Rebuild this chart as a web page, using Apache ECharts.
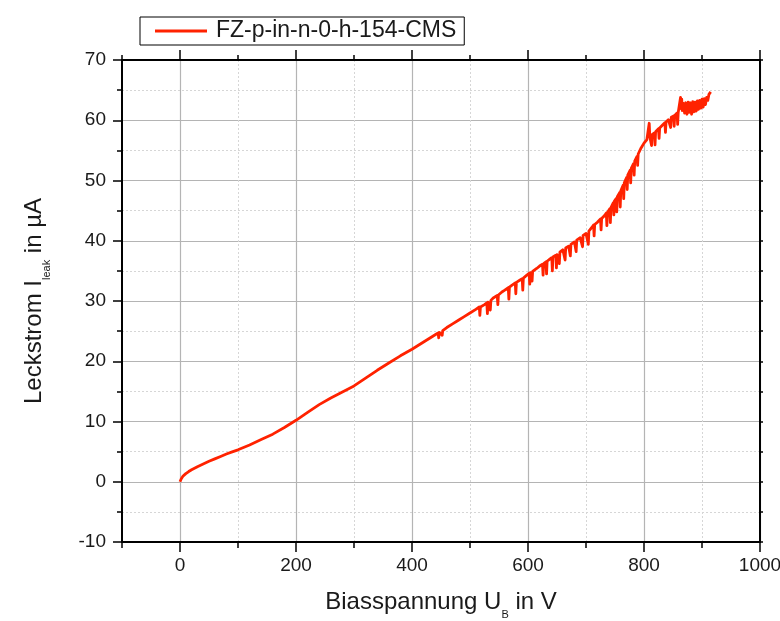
<!DOCTYPE html>
<html>
<head>
<meta charset="utf-8">
<script src="https://cdn.jsdelivr.net/npm/echarts@6/dist/echarts.min.js"></script>
<style>
  html, body { margin: 0; padding: 0; background: #fff; }
  #chart { width: 780px; height: 621px; }
</style>
</head>
<body>
<div id="chart"></div>
<script>
// Leakage current vs. bias voltage of sensor FZ-p-in-n-0-h-154-CMS
const seriesName = 'FZ-p-in-n-0-h-154-CMS';
const xMajorValues = [0, 200, 400, 600, 800, 1000];
const yTickValues = [-10, 0, 10, 20, 30, 40, 50, 60, 70];

// Bias voltage in V
const biasVoltage = [
  0, 2, 5, 10, 15, 20, 30, 40, 50, 60, 70, 80, 90,
  100, 120, 140, 160, 180, 200, 220, 240, 260, 280, 300,
  320, 340, 360, 380, 400, 420, 440,
  445, 446, 447, 450, 452, 453, 460, 470, 480, 490, 500, 510,
  516, 517, 518, 525, 529, 530, 531, 534, 535, 536, 540,
  547, 548, 549, 555, 560, 566, 567, 568, 572, 578, 579, 580,
  585, 590, 591, 592, 597, 602, 603, 604, 606, 607, 608,
  615, 620, 625, 626, 627, 631, 632, 633, 637, 641, 642, 643,
  648, 649, 650, 653, 654, 655, 660, 663, 664, 665, 670,
  672, 673, 674, 680, 682, 683, 684, 690, 693, 694, 695,
  700, 703, 704, 705, 710, 713, 714, 715, 720, 725, 726, 727,
  732, 735, 736, 737, 741, 742, 743, 747, 748, 749,
  752, 753, 754, 758, 759, 760, 764, 765, 766, 770, 771, 772,
  776, 777, 778, 782, 783, 784, 788, 789, 790, 795, 800, 805,
  808, 809, 810, 812, 813, 814, 818, 819, 820, 825, 826, 827,
  832, 836, 837, 838, 842, 845, 846, 847, 851, 852, 853,
  857, 858, 859, 862, 863, 864, 865, 866,
  868, 870, 872, 874, 876, 878, 880, 882, 884, 886, 888, 890,
  892, 894, 896, 898, 900, 902, 904, 906, 908, 910, 912, 915
];

// Leakage current in µA
const leakCurrent = [
  0, 0.45, 0.9, 1.35, 1.7, 2.0, 2.5, 2.95, 3.4, 3.8, 4.2, 4.6, 4.95,
  5.3, 6.1, 7.0, 7.9, 9.0, 10.2, 11.5, 12.8, 13.9, 14.9, 15.9,
  17.2, 18.5, 19.7, 20.9, 22.0, 23.2, 24.4,
  24.7, 23.9, 24.8, 25.0, 24.3, 25.1, 25.6, 26.2, 26.8, 27.4, 28.0, 28.6,
  29.0, 27.6, 29.0, 29.4, 29.7, 27.9, 29.8, 30.0, 28.5, 30.1, 30.5,
  30.9, 29.4, 31.0, 31.5, 31.8, 32.2, 30.3, 32.3, 32.6, 33.0, 31.2, 33.1,
  33.4, 33.7, 31.8, 33.8, 34.2, 34.6, 32.8, 34.7, 34.8, 33.3, 34.9,
  35.4, 35.8, 36.1, 34.3, 36.2, 36.5, 34.5, 36.6, 36.9, 37.2, 35.0, 37.3,
  37.6, 35.5, 37.7, 37.9, 36.2, 38.1, 38.5, 38.7, 36.8, 38.8, 39.1,
  39.3, 37.5, 39.4, 39.8, 40.0, 38.2, 40.1, 40.5, 40.8, 39.0, 40.9,
  41.2, 41.5, 39.4, 41.6, 42.2, 42.6, 40.8, 42.7, 43.1, 43.6, 41.8, 43.7,
  44.2, 44.6, 42.5, 44.7, 45.3, 43.0, 45.5, 46.3, 44.3, 46.6,
  47.0, 44.8, 47.3, 48.0, 45.6, 48.3, 49.2, 47.0, 49.6, 50.5, 48.5, 50.9,
  51.7, 49.6, 52.0, 52.8, 50.9, 53.2, 54.0, 52.5, 54.4, 55.4, 56.2, 56.8,
  57.1, 59.5, 57.3, 57.5, 55.8, 57.6, 57.9, 55.9, 58.1, 58.6, 57.0, 58.7,
  59.2, 59.6, 58.0, 59.7, 60.1, 60.4, 58.8, 60.5, 60.7, 59.0, 60.8,
  61.2, 59.3, 61.3, 61.5, 63.8, 61.9, 63.5, 61.6,
  62.8, 61.2, 62.9, 61.0, 63.0, 61.3, 62.9, 61.0, 63.1, 61.4, 63.0, 61.5,
  63.2, 61.8, 63.3, 62.0, 63.5, 62.2, 63.6, 62.6, 63.8, 63.3, 64.3, 64.7
];

const lineColor = '#ff2200';
const font = 'Liberation Sans, Arial, sans-serif';
const textColor = '#1a1a1a';
const axisBlack = { color: '#000', width: 2 };
const tickBlack = { color: '#000', width: 1.5 };
const xRange = { type: 'value', min: -100, max: 1000, interval: 100 };

const chart = echarts.init(document.getElementById('chart'), null, { renderer: 'canvas' });

chart.setOption({
  animation: false,
  backgroundColor: '#fff',
  grid: { left: 122, right: 20, top: 60, bottom: 79, containLabel: false, outerBoundsMode: 'none' },
  legend: {
    data: [{ name: seriesName, icon: 'rect' }],
    left: 140, top: 17,
    padding: [1, 8, 1, 15],
    itemWidth: 52, itemHeight: 3,
    borderColor: '#000', borderWidth: 1, borderRadius: 0,
    backgroundColor: '#fff',
    textStyle: { fontSize: 23, color: textColor, fontFamily: font, lineHeight: 26, padding: [0, 0, 0, 4] }
  },
  xAxis: [
    Object.assign({}, xRange, {
      position: 'bottom',
      name: '{m|Biasspannung U}{s|B}{m| in V}',
      nameLocation: 'middle', nameGap: 50,
      nameTextStyle: {
        fontFamily: font, color: textColor, fontSize: 24,
        rich: {
          m: { fontSize: 24, fontFamily: font, color: textColor, verticalAlign: 'bottom', lineHeight: 28, padding: [0, 0, 6, 0] },
          s: { fontSize: 11, fontFamily: font, color: textColor, verticalAlign: 'bottom', lineHeight: 12 }
        }
      },
      axisLine: { show: true, onZero: false, lineStyle: axisBlack },
      axisTick: { show: true, inside: false, length: 6, lineStyle: tickBlack },
      axisLabel: { customValues: xMajorValues, fontSize: 19, color: textColor, fontFamily: font, margin: 14,
        formatter: v => String(v) },
      splitLine: { show: true, lineStyle: { color: '#d6d6d6', width: 1, type: [2, 2] } }
    }),
    Object.assign({}, xRange, {
      position: 'bottom',
      axisLine: { show: false, onZero: false },
      axisTick: { show: true, inside: false, length: 10, customValues: xMajorValues, lineStyle: tickBlack },
      axisLabel: { show: false },
      splitLine: { show: true, lineStyle: { color: '#b4b4b4', width: 1.2 } }
    }),
    Object.assign({}, xRange, {
      position: 'top',
      axisLine: { show: true, onZero: false, lineStyle: axisBlack },
      axisTick: { show: true, inside: false, length: 5, lineStyle: tickBlack },
      axisLabel: { show: false },
      splitLine: { show: false }
    }),
    Object.assign({}, xRange, {
      position: 'top',
      axisLine: { show: false, onZero: false },
      axisTick: { show: true, inside: false, length: 10, customValues: xMajorValues, lineStyle: tickBlack },
      axisLabel: { show: false },
      splitLine: { show: false }
    })
  ],
  yAxis: [
    {
      type: 'value', position: 'left', min: -10, max: 70, interval: 10,
      name: '{m|Leckstrom I}{s|leak}{m| in µA}',
      nameLocation: 'middle', nameGap: 70, nameRotate: 90,
      nameTextStyle: {
        fontFamily: font, color: textColor, fontSize: 24,
        rich: {
          m: { fontSize: 24, fontFamily: font, color: textColor, verticalAlign: 'bottom', lineHeight: 28, padding: [0, 0, 6, 0] },
          s: { fontSize: 11, fontFamily: font, color: textColor, verticalAlign: 'bottom', lineHeight: 13 }
        }
      },
      axisLine: { show: true, onZero: false, lineStyle: axisBlack },
      axisTick: { show: true, inside: false, length: 9, lineStyle: tickBlack },
      minorTick: { show: true, splitNumber: 2, length: 5, lineStyle: tickBlack },
      axisLabel: { fontSize: 19, color: textColor, fontFamily: font, margin: 16,
        formatter: v => (yTickValues.indexOf(v) >= 0 ? String(v) : '') },
      splitLine: { show: true, lineStyle: { color: '#b4b4b4', width: 1.2 } },
      minorSplitLine: { show: true, lineStyle: { color: '#d6d6d6', width: 1, type: [2, 2] } }
    },
    {
      type: 'value', position: 'right', min: -10, max: 70, interval: 10,
      axisLine: { show: true, onZero: false, lineStyle: axisBlack },
      axisTick: { show: true, inside: false, length: 3, lineStyle: tickBlack },
      minorTick: { show: true, splitNumber: 2, length: 3, lineStyle: tickBlack },
      axisLabel: { show: false },
      splitLine: { show: false }
    }
  ],
  series: [
    {
      name: seriesName,
      type: 'line',
      xAxisIndex: 0, yAxisIndex: 0,
      data: biasVoltage.map((v, i) => [v, leakCurrent[i]]),
      showSymbol: false, symbol: 'none',
      sampling: null,
      lineStyle: { color: lineColor, width: 2.8, join: 'round' },
      itemStyle: { color: lineColor },
      z: 5
    }
  ]
});
</script>
</body>
</html>
